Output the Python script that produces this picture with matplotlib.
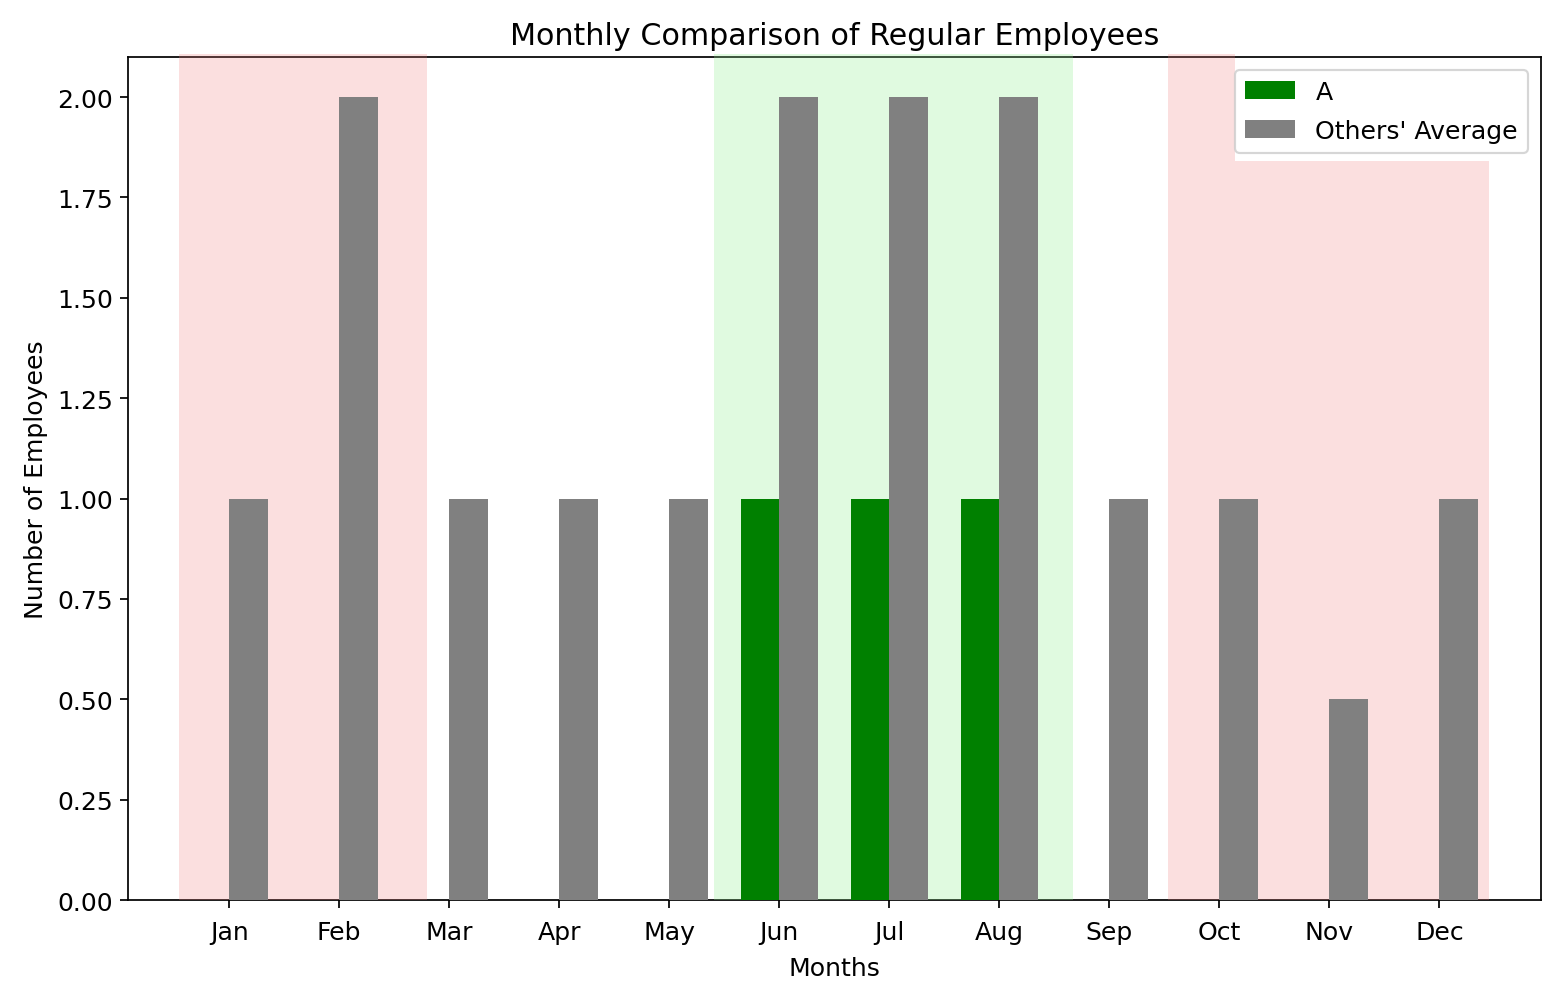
import numpy as np
import matplotlib
matplotlib.use("Agg")
import matplotlib.pyplot as plt

months = ["Jan", "Feb", "Mar", "Apr", "May", "Jun", "Jul", "Aug", "Sep", "Oct", "Nov", "Dec"]
a_values = [0, 0, 0, 0, 0, 1, 1, 1, 0, 0, 0, 0]
others_avg = [1, 2, 1, 1, 1, 2, 2, 2, 1, 1, 0.5, 1]

plt.rcParams["font.size"] = 11.6

x = np.arange(len(months))
w = 0.35

fig, ax = plt.subplots(figsize=(10, 6.393), dpi=156.1)
fig.subplots_adjust(left=0.082, right=0.987, top=0.942, bottom=0.097)

ax.bar(x - w / 2, a_values, w, color="green", label="A", zorder=4)
ax.bar(x + w / 2, others_avg, w, color="gray", label="Others' Average", zorder=4)

ax.set_ylim(0, 2.1)
ax.set_xlim(-0.92, 11.92)

# shaded seasons (drawn a bit past the top spine like the original)
pink = dict(color="lightcoral", alpha=0.25, lw=0, zorder=3, clip_on=False)
green = dict(color="lightgreen", alpha=0.27, lw=0, zorder=3, clip_on=False)
ax.fill_between([-0.46, 1.8], 0, 2.108, **pink)
ax.fill_between([4.41, 7.67], 0, 2.108, **green)
ax.fill_between([8.53, 9.14], 0, 2.108, **pink)
ax.fill_between([9.14, 11.45], 0, 1.84, **pink)

ax.set_xticks(x)
ax.set_xticklabels(months)
ax.tick_params(axis="x", pad=5.5)
ax.set_xlabel("Months", labelpad=5.5)
ax.set_ylabel("Number of Employees")
ax.set_title("Monthly Comparison of Regular Employees", fontsize=13.9)
ax.set_yticks(np.arange(0, 2.01, 0.25))
ax.yaxis.set_major_formatter(matplotlib.ticker.FormatStrFormatter("%.2f"))

leg = ax.legend(loc="upper right", labelspacing=0.6)
leg.set_zorder(6)

plt.savefig("out.png")
